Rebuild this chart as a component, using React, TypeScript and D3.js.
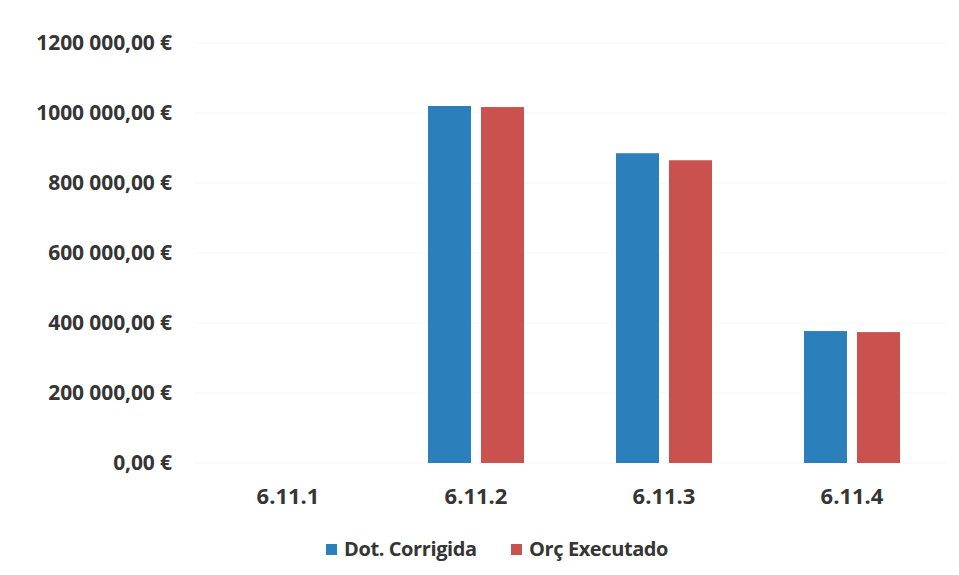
import React from "react";
import * as d3 from "d3";

const categories = ["6.11.1", "6.11.2", "6.11.3", "6.11.4"];
const seriesNames = ["Dot. Corrigida", "Orç Executado"];
const dotCorrigida = [0, 1020000, 885000, 377000];
const orcExecutado = [0, 1017000, 865000, 374000];
const yTicks = [0, 200000, 400000, 600000, 800000, 1000000, 1200000];
const colors = ["#2b7fba", "#c9524f"];

const W = 959;
const H = 575;
const plot = { left: 194, right: 946, top: 43, bottom: 463 };

function fmt(v: number) {
  const s = Math.round(v).toString();
  const parts: string[] = [];
  let rest = s;
  while (rest.length > 3) {
    parts.unshift(rest.slice(-3));
    rest = rest.slice(0, -3);
  }
  parts.unshift(rest);
  let txt: string;
  if (parts.length === 3) txt = parts[0] + parts[1] + " " + parts[2];
  else txt = parts.join(" ");
  return txt + ",00 €";
}

export default function App() {
  const x = d3.scaleBand<string>().domain(categories).range([plot.left, plot.right]);
  const y = d3.scaleLinear().domain([0, 1200000]).range([plot.bottom, plot.top]);
  const barW = 43;
  const gap = 10;
  const series = [dotCorrigida, orcExecutado];
  const font = "'Open Sans', sans-serif";
  const textFill = "#353535";
  return (
    <svg width={W} height={H} style={{ position: "absolute", left: 0, top: 0, background: "#fff" }}>
      <rect x={0} y={0} width={W} height={H} fill="#fff" />
      {yTicks.map((t) => (
        <g key={t}>
          <line x1={plot.left} x2={plot.right} y1={y(t)} y2={y(t)} stroke="#f7f7f7" strokeWidth={1} />
          <text
            x={172}
            y={y(t)}
            dy="0.35em"
            textAnchor="end"
            fontFamily={font}
            fontWeight={700}
            fontSize={21}
            fill={textFill}
            letterSpacing={-0.1}
          >
            {fmt(t)}
          </text>
        </g>
      ))}
      {categories.map((c, i) => {
        const cx = (x(c) as number) + x.bandwidth() / 2;
        return (
          <g key={c}>
            {series.map((s, j) => {
              const bx = cx - gap / 2 - barW + j * (barW + gap);
              const h = plot.bottom - y(s[i]);
              return h > 0 ? (
                <rect key={j} x={bx} y={y(s[i])} width={barW} height={h} fill={colors[j]} />
              ) : null;
            })}
            <text
              x={cx}
              y={496}
              dy="0.35em"
              textAnchor="middle"
              fontFamily={font}
              fontWeight={700}
              fontSize={22}
              fill={textFill}
            >
              {c}
            </text>
          </g>
        );
      })}
      {seriesNames.map((n, j) => {
        const lx = [326, 511][j];
        return (
          <g key={n}>
            <rect x={lx} y={544} width={11} height={11} fill={colors[j]} />
            <text
              x={lx + 18}
              y={549}
              dy="0.35em"
              fontFamily={font}
              fontWeight={700}
              fontSize={20}
              fill={textFill}
              letterSpacing={-0.4}
            >
              {n}
            </text>
          </g>
        );
      })}
    </svg>
  );
}
